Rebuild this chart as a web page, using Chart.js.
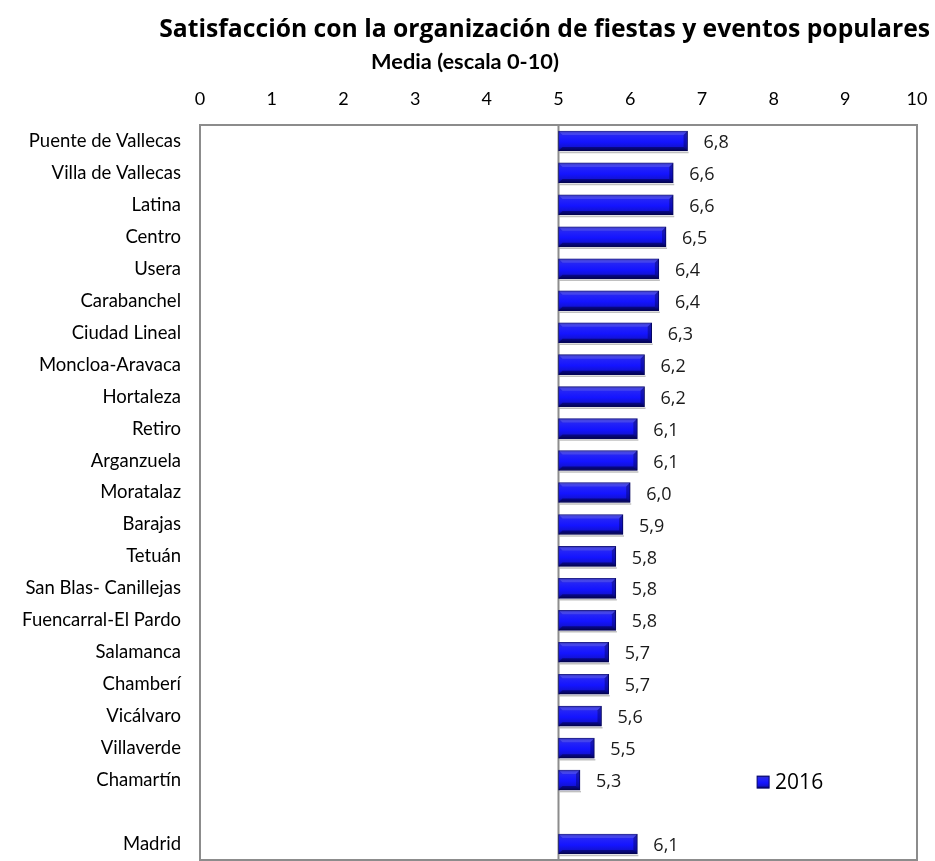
<!DOCTYPE html>
<html><head><meta charset="utf-8">
<script src="https://cdn.jsdelivr.net/npm/chart.js@4/dist/chart.umd.min.js"></script>
<style>html,body{margin:0;padding:0;background:#fff}#wrap{width:935px;height:861px}</style>
</head><body><div id="wrap"><canvas id="c" width="935" height="861"></canvas></div>
<script>
const categories = ['Puente de Vallecas','Villa de Vallecas','Latina','Centro','Usera','Carabanchel','Ciudad Lineal','Moncloa-Aravaca','Hortaleza','Retiro','Arganzuela','Moratalaz','Barajas','Tetuán','San Blas- Canillejas','Fuencarral-El Pardo','Salamanca','Chamberí','Vicálvaro','Villaverde','Chamartín','','Madrid'];
const values2016 = [6.8,6.6,6.6,6.5,6.4,6.4,6.3,6.2,6.2,6.1,6.1,6.0,5.9,5.8,5.8,5.8,5.7,5.7,5.6,5.5,5.3,null,6.1];
const baseValue = 5;
const xTicks = [0,1,2,3,4,5,6,7,8,9,10];
const seriesName = '2016';
const titleText = 'Satisfacción con la organización de fiestas y eventos populares';
const axisTitle = 'Media (escala 0-10)';

const FONT = 'Lato, "Open Sans", sans-serif';
const VFONT = '"Open Sans", sans-serif';

// fit a font size so that text reaches a target width
function fitSize(text, weight, family, target){
  const c = document.createElement('canvas').getContext('2d');
  c.font = weight + ' 100px ' + family;
  return 100 * target / c.measureText(text).width;
}
const titleSize = fitSize(titleText, 'bold', '"Open Sans"', 771);
const labelSize = Math.min(18.5, fitSize('Puente de Vallecas', 'normal', 'Lato', 160));
const axisTitleSize = fitSize(axisTitle, 'bold', 'Lato', 188);

function barGradient(ctx, y0, y1){
  const g = ctx.createLinearGradient(0, y0, 0, y1);
  g.addColorStop(0, '#0c0c80');
  g.addColorStop(0.1, '#2a2ad8');
  g.addColorStop(0.25, '#2323f8');
  g.addColorStop(0.55, '#1414ff');
  g.addColorStop(0.78, '#1212d8');
  g.addColorStop(0.92, '#0a0a90');
  g.addColorStop(1, '#06064a');
  return g;
}

const decor = {
  id: 'decor',
  beforeDatasetsDraw(chart){
    const {ctx, chartArea: a, scales} = chart;
    ctx.save();
    ctx.strokeStyle = '#8c8c8c';
    ctx.lineWidth = 2;
    ctx.strokeRect(a.left, a.top, a.right - a.left, a.bottom - a.top);
    const x5 = scales.x.getPixelForValue(baseValue);
    ctx.beginPath(); ctx.moveTo(x5, a.top); ctx.lineTo(x5, a.bottom); ctx.stroke();
    ctx.restore();
  },
  afterDatasetsDraw(chart){
    const {ctx, scales} = chart;
    const meta = chart.getDatasetMeta(0);
    ctx.save();
    // bevel overlay on each bar
    meta.data.forEach((el, i) => {
      if (values2016[i] == null) return;
      const x0 = el.base, x1 = el.x, h = el.height, y0 = el.y - h/2, y1 = el.y + h/2, b = 4;
      ctx.fillStyle = 'rgba(120,120,255,0.35)';
      ctx.beginPath(); ctx.moveTo(x0, y0); ctx.lineTo(x1, y0); ctx.lineTo(x1 - b, y0 + b); ctx.lineTo(x0 + b, y0 + b); ctx.closePath(); ctx.fill();
      ctx.fillStyle = 'rgba(0,0,60,0.35)';
      ctx.beginPath(); ctx.moveTo(x1, y0); ctx.lineTo(x1, y1); ctx.lineTo(x1 - b, y1 - b); ctx.lineTo(x1 - b, y0 + b); ctx.closePath(); ctx.fill();
      ctx.fillStyle = 'rgba(0,0,60,0.45)';
      ctx.beginPath(); ctx.moveTo(x0, y1); ctx.lineTo(x1, y1); ctx.lineTo(x1 - b, y1 - b); ctx.lineTo(x0 + b, y1 - b); ctx.closePath(); ctx.fill();
      ctx.strokeStyle = 'rgba(150,150,150,0.6)'; ctx.lineWidth = 1.5;
      ctx.beginPath(); ctx.moveTo(x0 + 1, y1 + 1.5); ctx.lineTo(x1 + 1, y1 + 1.5); ctx.stroke();
    });
    ctx.font = '18px ' + VFONT;
    ctx.fillStyle = '#1a1a1a';
    ctx.textBaseline = 'middle';
    ctx.textAlign = 'left';
    meta.data.forEach((el, i) => {
      const v = values2016[i];
      if (v == null) return;
      ctx.fillText(v.toFixed(1).replace('.', ','), el.x + 16, el.y + 2);
    });
    // legend
    const lx = scales.x.getPixelForValue(8.3);
    const ly = scales.y.getPixelForValue(20) + 2;
    ctx.fillStyle = barGradient(ctx, ly - 6, ly + 6);
    ctx.fillRect(lx - 38, ly - 6, 12, 12);
    ctx.strokeStyle = '#00006a'; ctx.lineWidth = 1;
    ctx.strokeRect(lx - 38, ly - 6, 12, 12);
    ctx.fillStyle = '#000';
    ctx.font = '21px ' + VFONT;
    ctx.fillText(seriesName, lx - 20, ly + 1);
    ctx.restore();
  },
  afterDraw(chart){
    const {ctx} = chart;
    ctx.save();
    ctx.fillStyle = '#000';
    ctx.textBaseline = 'middle';
    ctx.textAlign = 'right';
    ctx.font = 'bold ' + titleSize + 'px "Open Sans"';
    ctx.fillText(titleText, 930, 30);
    ctx.textAlign = 'center';
    ctx.font = 'bold ' + axisTitleSize + 'px ' + FONT;
    ctx.fillText(axisTitle, 465, 62);
    ctx.restore();
  }
};

new Chart(document.getElementById('c'), {
  type: 'bar',
  data: {
    labels: categories,
    datasets: [{
      label: seriesName,
      data: values2016.map(v => v == null ? null : [baseValue, v]),
      backgroundColor(c){
        const chart = c.chart;
        if (!chart.chartArea || !chart.scales.y) return '#2222ee';
        const y = chart.scales.y.getPixelForValue(c.dataIndex);
        return barGradient(chart.ctx, y - 10, y + 10);
      },
      borderColor: '#08086a',
      borderWidth: 1,
      borderSkipped: false,
      barThickness: 20
    }]
  },
  options: {
    indexAxis: 'y',
    responsive: false,
    animation: false,
    layout: {padding: {left: 0, right: 18, top: 0, bottom: 1}},
    plugins: {legend: {display: false}, title: {display: false}, tooltip: {enabled: false}},
    scales: {
      x: {
        position: 'top', min: 0, max: 10,
        afterBuildTicks(s){ s.ticks = xTicks.map(v => ({value: v})); },
        afterFit(s){ s.height = 125; s.paddingLeft = 0; s.paddingRight = 0; s.paddingTop = 0; s.paddingBottom = 0; },
        grid: {display: false, drawTicks: false},
        border: {display: false},
        ticks: {font: {family: FONT, size: 18}, color: '#000', padding: 15, maxRotation: 0}
      },
      y: {
        afterFit(s){ s.width = 200; s.paddingLeft = 0; s.paddingRight = 0; s.paddingTop = 0; s.paddingBottom = 0; },
        grid: {display: false, drawTicks: false},
        border: {display: false},
        ticks: {font: {family: FONT, size: labelSize}, color: '#000', padding: 19, autoSkip: false}
      }
    }
  },
  plugins: [decor]
});
</script></body></html>
